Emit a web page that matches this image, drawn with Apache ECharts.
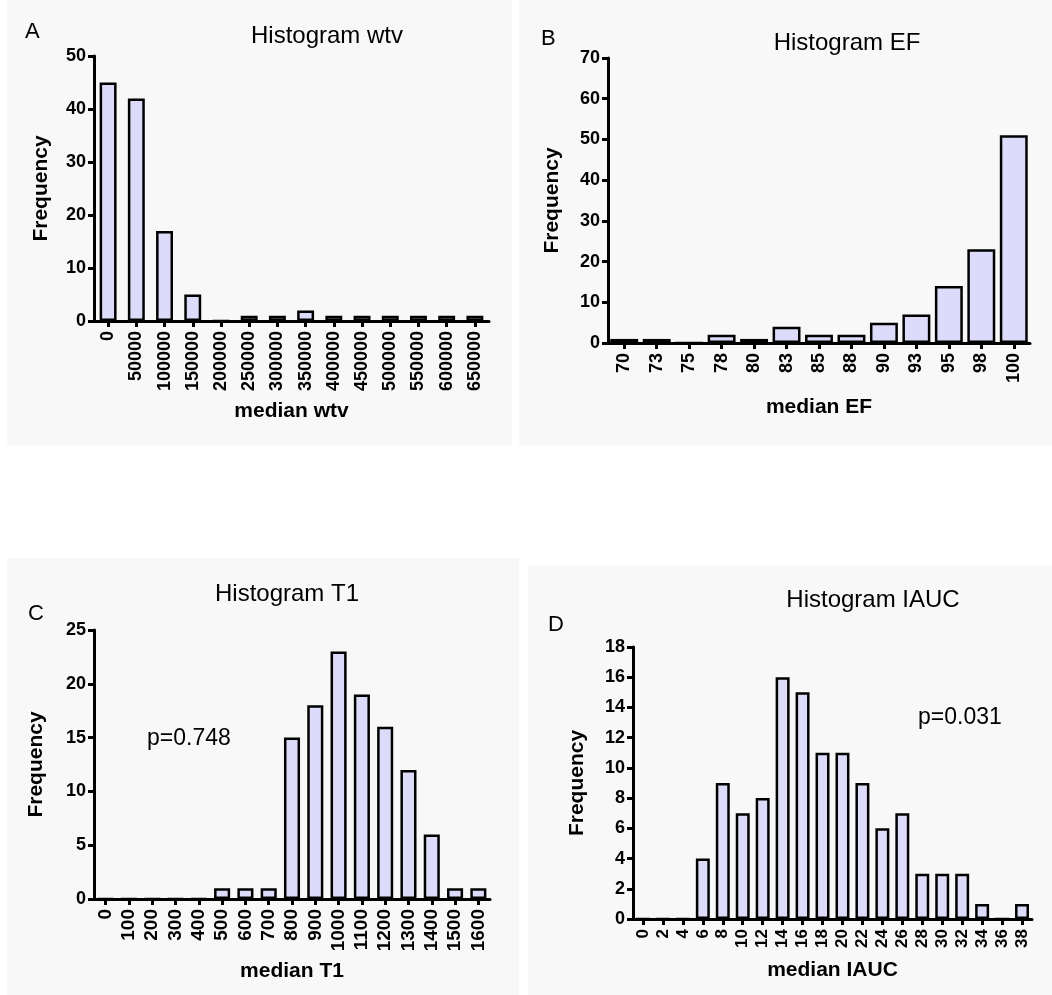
<!DOCTYPE html>
<html>
<head>
<meta charset="utf-8">
<script src="https://cdn.jsdelivr.net/npm/echarts@6/dist/echarts.min.js"></script>
<style>
  html, body { margin: 0; padding: 0; background: #fff; }
  #chart { width: 1052px; height: 995px; }
</style>
</head>
<body>
<div id="chart"></div>
<script>
// panel A - wtv
const wtvBins = ['0', '50000', '100000', '150000', '200000', '250000', '300000', '350000', '400000', '450000', '500000', '550000', '600000', '650000'];
const wtvFreq = [45, 42, 17, 5, 0, 1, 1, 2, 1, 1, 1, 1, 1, 1];
// panel B - EF
const efBins = ['70', '73', '75', '78', '80', '83', '85', '88', '90', '93', '95', '98', '100'];
const efFreq = [1, 1, 0, 2, 1, 4, 2, 2, 5, 7, 14, 23, 51];
// panel C - T1
const t1Bins = ['0', '100', '200', '300', '400', '500', '600', '700', '800', '900', '1000', '1100', '1200', '1300', '1400', '1500', '1600'];
const t1Freq = [0, 0, 0, 0, 0, 1, 1, 1, 15, 18, 23, 19, 16, 12, 6, 1, 1];
// panel D - IAUC
const iaucBins = ['0', '2', '4', '6', '8', '10', '12', '14', '16', '18', '20', '22', '24', '26', '28', '30', '32', '34', '36', '38'];
const iaucFreq = [0, 0, 0, 4, 9, 7, 8, 16, 15, 11, 11, 9, 6, 7, 3, 3, 3, 1, 0, 1];

const font = "'Liberation Sans', Arial, sans-serif";
let chart = echarts.init(document.querySelector('#chart'));

let panels = [
  { bins: wtvBins, freq: wtvFreq, name: 'median wtv', max: 50, step: 10, grid: { left: 94, top: 56, width: 395, height: 265 }, gap: '40%', xFont: 18, xGap: 80, yGap: 42 },
  { bins: efBins, freq: efFreq, name: 'median EF', max: 70, step: 10, grid: { left: 608, top: 58, width: 422, height: 285 }, gap: '14%', xFont: 18, xGap: 54, yGap: 45 },
  { bins: t1Bins, freq: t1Freq, name: 'median T1', max: 25, step: 5, grid: { left: 94, top: 630, width: 396, height: 269 }, gap: '31%', xFont: 19, xGap: 62, yGap: 47 },
  { bins: iaucBins, freq: iaucFreq, name: 'median IAUC', max: 18, step: 2, grid: { left: 633, top: 647, width: 399, height: 272 }, gap: '30%', xFont: 17, xGap: 41, yGap: 45 }
];

let axisLine = { show: true, lineStyle: { color: '#000', width: 3 } };
let axisTick = { show: true, length: 6, lineStyle: { color: '#000', width: 3 } };

let grids = [], xAxes = [], yAxes = [], series = [];
panels.forEach((p, i) => {
  grids.push(Object.assign({ containLabel: false }, p.grid));
  xAxes.push({
    type: 'category', gridIndex: i, data: p.bins,
    name: p.name, nameLocation: 'middle', nameGap: p.xGap,
    nameTextStyle: { fontFamily: font, fontWeight: 'bold', fontSize: 21, color: '#000' },
    axisLine: axisLine,
    axisTick: Object.assign({ alignWithLabel: true }, axisTick),
    axisLabel: { rotate: 90, interval: 0, margin: 10, fontFamily: font, fontWeight: 'bold', fontSize: p.xFont, color: '#000' },
    splitLine: { show: false }
  });
  yAxes.push({
    type: 'value', gridIndex: i, min: 0, max: p.max, interval: p.step,
    name: 'Frequency', nameLocation: 'middle', nameGap: p.yGap,
    nameTextStyle: { fontFamily: font, fontWeight: 'bold', fontSize: 21, color: '#000' },
    axisLine: axisLine,
    axisTick: axisTick,
    axisLabel: { margin: 8, fontFamily: font, fontWeight: 'bold', fontSize: 18, color: '#000' },
    splitLine: { show: false }
  });
  series.push({
    type: 'bar', xAxisIndex: i, yAxisIndex: i, data: p.freq,
    barCategoryGap: p.gap,
    itemStyle: { color: '#dcdcfa', borderColor: '#000', borderWidth: 2.5 },
    z: 1
  });
});

function label(text, x, y, size) {
  return {
    type: 'text', left: x, top: y,
    style: { text: text, fontFamily: font, fontSize: size, fill: '#000' }
  };
}

let option = {
  backgroundColor: '#fff',
  animation: false,
  title: [
    { text: 'Histogram wtv', left: 322, top: 19, textAlign: 'center' },
    { text: 'Histogram EF', left: 842, top: 26, textAlign: 'center' },
    { text: 'Histogram T1', left: 282, top: 577, textAlign: 'center' },
    { text: 'Histogram IAUC', left: 868, top: 583, textAlign: 'center' }
  ].map(t => Object.assign(t, { textStyle: { fontFamily: font, fontWeight: 'normal', fontSize: 24, color: '#000' } })),
  graphic: [
    { type: 'rect', left: 7, top: 0, z: -10, shape: { width: 505, height: 445 }, style: { fill: '#f8f8f8' } },
    { type: 'rect', left: 519, top: 0, z: -10, shape: { width: 533, height: 445 }, style: { fill: '#f8f8f8' } },
    { type: 'rect', left: 7, top: 558, z: -10, shape: { width: 512, height: 437 }, style: { fill: '#f8f8f8' } },
    { type: 'rect', left: 528, top: 565, z: -10, shape: { width: 524, height: 430 }, style: { fill: '#f8f8f8' } },
    label('A', 25, 21, 22),
    label('B', 541, 28, 22),
    label('C', 28, 603, 22),
    label('D', 548, 614, 22),
    label('p=0.748', 147, 727, 23),
    label('p=0.031', 918, 706, 23)
  ],
  grid: grids,
  xAxis: xAxes,
  yAxis: yAxes,
  series: series
};
chart.setOption(option);
</script>
</body>
</html>
